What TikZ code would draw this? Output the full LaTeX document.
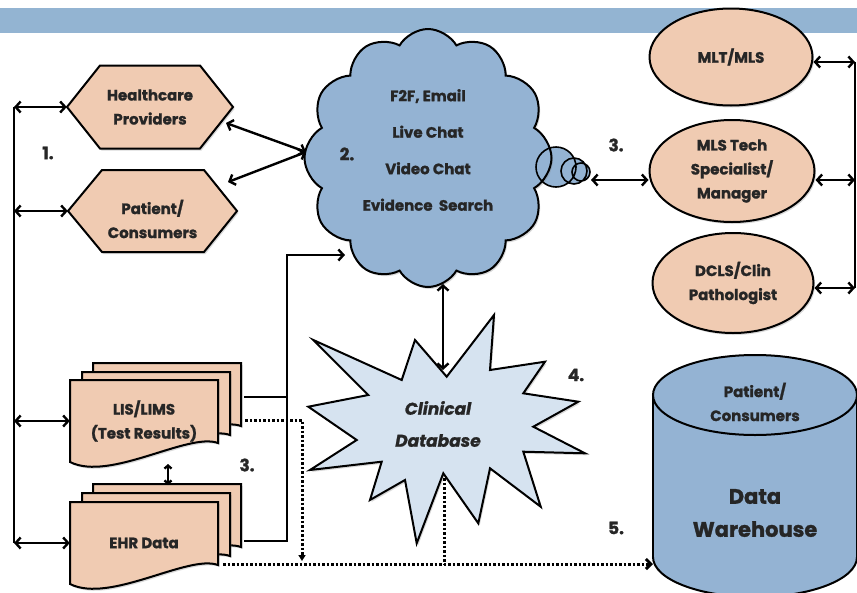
\documentclass[tikz,border=0pt]{standalone}
\usepackage{fontspec}
\setmainfont{Poppins}[BoldFeatures={FakeBold=1.3}, BoldItalicFeatures={FakeBold=1.3}]
\usetikzlibrary{shapes.geometric,shapes.symbols,arrows.meta,shadows,calc}
\definecolor{peach}{HTML}{F0CBB2}
\definecolor{cloudblue}{HTML}{94B3D3}
\definecolor{starblue}{HTML}{D6E3F0}
\definecolor{bannerc}{HTML}{93B4D2}
\tikzset{
  lbl/.style={font=\fontsize{15}{24}\selectfont\bfseries, align=center, text=black!85},
  shp/.style={draw=black, line width=2pt, drop shadow={shadow xshift=1.5pt, shadow yshift=-2pt, opacity=0.3}},
  conn/.style={line width=2.4pt, black},
  bi/.style={conn, {Straight Barb[length=5pt,width=11pt]}-{Straight Barb[length=5pt,width=11pt]}},
  dotline/.style={line width=3pt, black, dash pattern=on 2.5pt off 2pt},
  numlbl/.style={font=\fontsize{17}{20}\selectfont\bfseries, text=black!85},
  docpage/.pic={\draw[shp, fill=peach] (0,0) -- (148,0) -- (148,63) .. controls (118,52) and (40,102) .. (0,82) -- cycle;}
}
\begin{document}
\begin{tikzpicture}[x=1pt,y=-1pt]
\useasboundingbox (0,0) rectangle (857,592);
\fill[bannerc] (0,8) rectangle (857,33);

% hexagons
\draw[shp, fill=peach] (67,107) -- (100,65.5) -- (200,65.5) -- (233,107) -- (200,148.5) -- (100,148.5) -- cycle;
\node[lbl, minimum width=166pt, minimum height=83pt, inner sep=0pt] (hc) at (150,107) {Healthcare\\Providers};
\draw[shp, fill=peach] (68,211) -- (102,170) -- (204,170) -- (237,211) -- (204,252) -- (102,252) -- cycle;
\node[minimum width=169pt, minimum height=82pt, inner sep=0pt] (pc) at (152.5,211) {};
\node[lbl] (pctxt) at (152.5,219) {Patient/\\Consumers};

% cloud
\fill[cloudblue] (556,167) circle[radius=20pt] (574,171) circle[radius=13pt] (581,172) circle[radius=9pt];
\node[cloud, cloud puffs=12, cloud puff arc=120, aspect=0.95, shp, fill=cloudblue, minimum width=247pt, minimum height=258pt] (cl) at (428,158) {};
\draw[line width=1.6pt] (556,167) circle[radius=20pt] (574,171) circle[radius=13pt] (581,172) circle[radius=9pt];
\node[lbl, font=\fontsize{15}{36.5}\selectfont\bfseries] (cltxt) at (428,150) {F2F, Email\\Live Chat\\Video Chat\\Evidence\ \ Search};

% ellipses
\node[ellipse, shp, fill=peach, lbl, minimum width=163pt, minimum height=97pt, inner sep=0pt] (mlt) at (731,57) {MLT/MLS};
\node[ellipse, shp, fill=peach, lbl, minimum width=165pt, minimum height=102pt, inner sep=0pt] (mls) at (732,171) {MLS Tech\\Specialist/\\Manager};
\node[ellipse, shp, fill=peach, lbl, minimum width=161pt, minimum height=100pt, inner sep=0pt] (dcls) at (733,283) {DCLS/Clin\\Pathologist};

% star
\draw[shp, fill=starblue] (313.3,340) -- (401.7,380) -- (415,340) -- (446.7,376.7) -- (494,315) -- (490,370) -- (545,361.7) -- (523.3,393.3) -- (578.3,401.7) -- (533.3,426.7) -- (585,453.3) -- (523.3,451.7) -- (540.7,506.7) -- (490,468.3) -- (478.3,523.3) -- (443.3,473.3) -- (416.7,543.3) -- (405,480) -- (370,500) -- (381.7,461.7) -- (310,470) -- (356.7,440) -- (308.3,406.7) -- (368.3,395) -- cycle;
\node[lbl, font=\fontsize{17}{32}\selectfont\bfseries\itshape] (db) at (438,424) {Clinical\\Database};

% documents
\pic (lis3) at (93,363) {docpage};
\pic (lis2) at (82,372) {docpage};
\pic (lis1) at (70,380) {docpage};
\node[lbl, minimum width=148pt, minimum height=70pt, inner sep=0pt] (lis) at (144,421) {LIS/LIMS\\(Test Results)};
\pic (ehr3) at (93,484) {docpage};
\pic (ehr2) at (82,493) {docpage};
\pic (ehr1) at (70,502) {docpage};
\node[lbl, minimum width=148pt, minimum height=70pt, inner sep=0pt] (ehr) at (144,543) {EHR Data};

% cylinder
\draw[line width=2pt, fill=cloudblue] (755,557) ellipse [x radius=102pt, y radius=40pt];
\fill[cloudblue] (653,395) rectangle (857,557);
\draw[line width=2pt] (653,395) -- (653,557) (857,395) -- (857,557);
\draw[line width=2pt, fill=cloudblue] (755,395) ellipse [x radius=102pt, y radius=40pt];
\node[lbl] (dwtop) at (755,402) {Patient/\\Consumers};
\node[lbl, font=\fontsize{21}{33}\selectfont\bfseries] (dw) at (755,513) {Data\\Warehouse};

% numbers
\node[numlbl] (n1) at (48,153) {1.};
\node[numlbl] (n2) at (347,154) {2.};
\node[numlbl] (n3a) at (616,145) {3.};
\node[numlbl] (n3b) at (247,465) {3.};
\node[numlbl] (n4) at (576,375) {4.};
\node[numlbl] (n5) at (616,528) {5.};

% coordinates
\coordinate (lbT) at (14,107);
\coordinate (lbB) at (14,543);
\coordinate (rbT) at (855,62);
\coordinate (rbM) at (855,180);
\coordinate (rbB) at (855,288);
\coordinate (hcR) at (226,123);
\coordinate (pcR) at (228,182);
\coordinate (clW) at (306,152);
\coordinate (bub) at (591,180);
\coordinate (lisR) at (244,397);
\coordinate (ehrR) at (244,541);
\coordinate (jn) at (287,255);
\coordinate (clSW) at (345,255);
\coordinate (clB) at (443,284);
\coordinate (dbT) at (443,370);
\coordinate (dbB) at (444,478);
\coordinate (ehrD) at (223,564);
\coordinate (dwW) at (653,564);
\coordinate (lisD) at (245,420);
\coordinate (dq) at (302,561);
\coordinate (lisS) at (168,464);
\coordinate (ehrN) at (168,485);

% connectors
\draw[conn] (lbT) -- (lbB);
\draw[bi] (lbT) -- (hc.west);
\draw[bi] (lbT |- pc.west) -- (pc.west);
\draw[bi] (lbT |- lis.west) -- (lis.west);
\draw[bi] (lbB) -- (ehr.west);
\draw[conn, {Straight Barb[length=3pt,width=7pt]}-{Straight Barb[length=3pt,width=7pt]}] (lisS) -- (ehrN);
\draw[bi] (hcR) -- (clW);
\draw[bi] (pcR) -- (clW);
\draw[conn] (lisR) -- (lisR -| jn);
\draw[conn, -{Straight Barb[length=5pt,width=11pt]}] (ehrR) -| (jn) -- (clSW);
\draw[bi] (clB) -- (dbT);
\draw[bi] (bub) -- ([yshift=-9pt]mls.west);
\draw[conn] (rbT) -- (rbB);
\draw[bi] ([yshift=-5pt]mlt.east) -- (rbT);
\draw[bi] ([yshift=-9pt]mls.east) -- (rbM);
\draw[bi] ([yshift=-5pt]dcls.east) -- (rbB);
\draw[dotline] (dbB) -- (dbB |- dwW);
\draw[dotline, -{Straight Barb[length=5pt,width=10pt]}] (ehrD) -- (dwW);
\draw[dotline, -{Triangle[length=6pt,width=7pt]}] (lisD) -| (dq);
\end{tikzpicture}
\end{document}
